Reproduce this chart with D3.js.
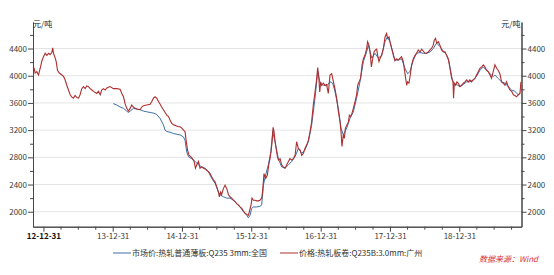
<!DOCTYPE html>
<html>
<head>
<meta charset="utf-8">
<script src="https://cdn.jsdelivr.net/npm/d3@7"></script>
<style>
  body { margin: 0; background: #fff; }
  .Chart { width: 554px; height: 275px; }
  text { font-family: "Noto Sans CJK SC", "Noto Sans", sans-serif; }
</style>
</head>
<body>
<div class="Chart"></div>
<script>
// 价格:热轧板卷:Q235B:3.0mm:广州
const gzPrice = [
  ["2012-11-06", 4130], ["2012-11-12", 4110], ["2012-11-17", 4040], ["2012-11-26", 4060],
  ["2012-12-05", 4010], ["2012-12-14", 4110], ["2012-12-22", 4210], ["2012-12-31", 4280],
  ["2013-01-09", 4330], ["2013-01-18", 4300], ["2013-01-27", 4330], ["2013-02-04", 4310],
  ["2013-02-13", 4340], ["2013-02-18", 4410], ["2013-02-22", 4330], ["2013-03-03", 4260],
  ["2013-03-08", 4210], ["2013-03-15", 4080], ["2013-03-25", 4040], ["2013-04-07", 4010],
  ["2013-04-16", 3990], ["2013-04-24", 3940], ["2013-05-03", 3860], ["2013-05-12", 3790],
  ["2013-05-21", 3720], ["2013-05-29", 3690], ["2013-06-07", 3670], ["2013-06-16", 3710],
  ["2013-06-25", 3680], ["2013-07-04", 3670], ["2013-07-12", 3720], ["2013-07-21", 3810],
  ["2013-07-30", 3840], ["2013-08-08", 3810], ["2013-08-16", 3850], ["2013-08-25", 3840],
  ["2013-09-03", 3810], ["2013-09-12", 3790], ["2013-09-21", 3770], ["2013-10-08", 3740],
  ["2013-10-17", 3770], ["2013-10-26", 3720], ["2013-11-03", 3790], ["2013-11-12", 3810],
  ["2013-11-21", 3790], ["2013-11-30", 3820], ["2013-12-17", 3840], ["2014-01-04", 3810],
  ["2014-01-21", 3810], ["2014-02-08", 3800], ["2014-02-17", 3740], ["2014-02-26", 3690],
  ["2014-03-06", 3590], ["2014-03-15", 3520], ["2014-03-24", 3480], ["2014-04-02", 3520],
  ["2014-04-10", 3570], ["2014-04-19", 3540], ["2014-04-28", 3520], ["2014-05-07", 3510],
  ["2014-05-24", 3500], ["2014-06-02", 3540], ["2014-06-11", 3560], ["2014-06-28", 3570],
  ["2014-07-16", 3580], ["2014-07-25", 3620], ["2014-08-03", 3670], ["2014-08-11", 3690],
  ["2014-08-20", 3670], ["2014-08-29", 3620], ["2014-09-07", 3580], ["2014-09-15", 3540],
  ["2014-09-24", 3500], ["2014-10-03", 3460], ["2014-10-12", 3420], ["2014-10-21", 3400],
  ["2014-10-29", 3350], ["2014-11-07", 3300], ["2014-11-16", 3280], ["2014-11-25", 3270],
  ["2014-12-03", 3260], ["2014-12-12", 3250], ["2014-12-21", 3250], ["2014-12-30", 3230],
  ["2015-01-08", 3200], ["2015-01-16", 3180], ["2015-01-22", 3050], ["2015-01-29", 2910],
  ["2015-02-06", 2830], ["2015-02-15", 2810], ["2015-02-24", 2780], ["2015-03-05", 2740],
  ["2015-03-12", 2640], ["2015-03-19", 2690], ["2015-03-28", 2740], ["2015-04-05", 2640],
  ["2015-04-14", 2660], ["2015-04-23", 2640], ["2015-05-02", 2630], ["2015-05-10", 2610],
  ["2015-05-19", 2590], ["2015-05-28", 2560], ["2015-06-06", 2510], ["2015-06-15", 2470],
  ["2015-06-23", 2440], ["2015-07-02", 2370], ["2015-07-11", 2290], ["2015-07-16", 2220],
  ["2015-07-23", 2290], ["2015-07-28", 2250], ["2015-08-06", 2340], ["2015-08-15", 2390],
  ["2015-08-24", 2340], ["2015-09-02", 2250], ["2015-09-10", 2220], ["2015-09-19", 2200],
  ["2015-09-28", 2170], ["2015-10-07", 2150], ["2015-10-15", 2120], ["2015-10-24", 2100],
  ["2015-11-02", 2070], ["2015-11-11", 2050], ["2015-11-20", 2010], ["2015-11-28", 1980],
  ["2015-12-07", 1960], ["2015-12-16", 1950], ["2015-12-21", 2000], ["2015-12-30", 2100],
  ["2016-01-04", 2200], ["2016-01-11", 2170], ["2016-01-20", 2170], ["2016-01-29", 2160],
  ["2016-02-07", 2160], ["2016-02-15", 2170], ["2016-02-24", 2200], ["2016-02-29", 2300],
  ["2016-03-07", 2560], ["2016-03-16", 2490], ["2016-03-25", 2540], ["2016-04-01", 2690],
  ["2016-04-08", 2780], ["2016-04-13", 2880], ["2016-04-19", 3030], ["2016-04-24", 3240],
  ["2016-04-29", 3180], ["2016-05-04", 3050], ["2016-05-10", 2930], ["2016-05-17", 2810],
  ["2016-05-22", 2760], ["2016-05-31", 2780], ["2016-06-08", 2690], ["2016-06-17", 2660],
  ["2016-06-26", 2640], ["2016-07-05", 2690], ["2016-07-14", 2740], ["2016-07-22", 2780],
  ["2016-07-31", 2760], ["2016-08-09", 2780], ["2016-08-18", 2830], ["2016-08-26", 3030],
  ["2016-09-04", 2930], ["2016-09-13", 2910], ["2016-09-22", 2830], ["2016-10-01", 2860],
  ["2016-10-09", 2930], ["2016-10-18", 2980], ["2016-10-27", 3050], ["2016-11-05", 3180],
  ["2016-11-13", 3320], ["2016-11-22", 3570], ["2016-12-01", 3760], ["2016-12-10", 3960],
  ["2016-12-15", 4120], ["2016-12-20", 4010], ["2016-12-26", 3760], ["2016-12-31", 3910],
  ["2017-01-05", 3860], ["2017-01-14", 3890], ["2017-01-23", 3860], ["2017-01-31", 3870],
  ["2017-02-09", 3740], ["2017-02-18", 4010], ["2017-02-27", 4030], ["2017-03-08", 3910],
  ["2017-03-16", 3810], ["2017-03-25", 3670], ["2017-04-03", 3470], ["2017-04-12", 3320],
  ["2017-04-17", 3180], ["2017-04-22", 2960], ["2017-04-29", 3130], ["2017-05-05", 3080],
  ["2017-05-10", 3230], ["2017-05-17", 3270], ["2017-05-26", 3320], ["2017-05-31", 3420],
  ["2017-06-07", 3400], ["2017-06-14", 3450], ["2017-06-21", 3520], ["2017-06-30", 3620],
  ["2017-07-08", 3720], ["2017-07-14", 3860], ["2017-07-21", 3910], ["2017-07-29", 3960],
  ["2017-08-06", 4160], ["2017-08-13", 4250], ["2017-08-21", 4300], ["2017-08-30", 4400],
  ["2017-09-04", 4500], ["2017-09-11", 4450], ["2017-09-17", 4350], ["2017-09-24", 4130],
  ["2017-10-01", 4250], ["2017-10-08", 4350], ["2017-10-15", 4380], ["2017-10-22", 4390],
  ["2017-10-27", 4300], ["2017-11-03", 4210], ["2017-11-08", 4250], ["2017-11-17", 4300],
  ["2017-11-26", 4400], ["2017-12-05", 4570], ["2017-12-13", 4620], ["2017-12-19", 4550],
  ["2017-12-26", 4570], ["2017-12-31", 4500], ["2018-01-09", 4400], ["2018-01-18", 4300],
  ["2018-01-26", 4220], ["2018-02-04", 4250], ["2018-02-13", 4230], ["2018-02-22", 4260],
  ["2018-03-02", 4280], ["2018-03-11", 4210], ["2018-03-20", 4030], ["2018-03-29", 3860],
  ["2018-04-03", 3910], ["2018-04-10", 3890], ["2018-04-17", 4010], ["2018-04-24", 4160],
  ["2018-05-03", 4250], ["2018-05-12", 4300], ["2018-05-20", 4330], ["2018-05-29", 4380],
  ["2018-06-07", 4350], ["2018-06-16", 4390], ["2018-06-25", 4360], ["2018-07-03", 4330],
  ["2018-07-12", 4330], ["2018-07-21", 4350], ["2018-07-30", 4380], ["2018-08-07", 4400],
  ["2018-08-16", 4450], ["2018-08-21", 4520], ["2018-08-28", 4550], ["2018-09-03", 4480],
  ["2018-09-12", 4500], ["2018-09-20", 4450], ["2018-09-29", 4380], ["2018-10-08", 4350],
  ["2018-10-17", 4350], ["2018-10-25", 4300], ["2018-11-03", 4250], ["2018-11-12", 4110],
  ["2018-11-21", 3960], ["2018-11-28", 3910], ["2018-12-01", 3670], ["2018-12-05", 3890],
  ["2018-12-12", 3860], ["2018-12-19", 3910], ["2018-12-26", 3890], ["2019-01-04", 3840],
  ["2019-01-12", 3860], ["2019-01-21", 3890], ["2019-01-30", 3910], ["2019-02-08", 3940],
  ["2019-02-17", 3910], ["2019-02-25", 3940], ["2019-03-06", 3910], ["2019-03-15", 3940],
  ["2019-03-24", 3960], ["2019-04-01", 4010], ["2019-04-10", 4060], ["2019-04-19", 4110],
  ["2019-04-28", 4130], ["2019-05-07", 4160], ["2019-05-15", 4130], ["2019-05-24", 4080],
  ["2019-06-02", 4060], ["2019-06-11", 4010], ["2019-06-19", 3960], ["2019-06-28", 4060],
  ["2019-07-07", 4160], ["2019-07-16", 4110], ["2019-07-24", 4080], ["2019-08-02", 4030],
  ["2019-08-11", 3910], ["2019-08-20", 3890], ["2019-08-29", 3860], ["2019-09-06", 3910],
  ["2019-09-15", 3840], ["2019-09-24", 3790], ["2019-10-03", 3770], ["2019-10-12", 3720],
  ["2019-10-20", 3710], ["2019-10-29", 3690], ["2019-11-07", 3720], ["2019-11-16", 3740],
  ["2019-11-21", 3910]
];

// 市场价:热轧普通薄板:Q235 3mm:全国
const nationalPrice = [
  ["2014-01-03", 3590], ["2014-01-21", 3570], ["2014-02-08", 3540], ["2014-02-26", 3520],
  ["2014-03-15", 3480], ["2014-03-24", 3460], ["2014-04-02", 3480], ["2014-04-19", 3520],
  ["2014-05-07", 3510], ["2014-05-24", 3500], ["2014-06-11", 3480], ["2014-06-28", 3470],
  ["2014-07-16", 3460], ["2014-08-03", 3450], ["2014-08-20", 3430], ["2014-09-07", 3370],
  ["2014-09-24", 3280], ["2014-10-03", 3200], ["2014-10-12", 3180], ["2014-10-29", 3170],
  ["2014-11-16", 3150], ["2014-12-03", 3140], ["2014-12-21", 3130], ["2015-01-08", 3100],
  ["2015-01-16", 3050], ["2015-01-25", 2880], ["2015-02-03", 2810], ["2015-02-20", 2780],
  ["2015-03-10", 2740], ["2015-03-28", 2690], ["2015-04-14", 2660], ["2015-05-02", 2640],
  ["2015-05-19", 2590], ["2015-06-06", 2490], ["2015-06-23", 2420], ["2015-07-11", 2290],
  ["2015-07-20", 2250], ["2015-08-06", 2220], ["2015-08-24", 2200], ["2015-09-10", 2200],
  ["2015-09-28", 2170], ["2015-10-15", 2120], ["2015-11-02", 2070], ["2015-11-20", 2000],
  ["2015-12-07", 1950], ["2015-12-16", 1910], ["2015-12-25", 1950], ["2016-01-02", 2050],
  ["2016-01-11", 2070], ["2016-01-29", 2070], ["2016-02-15", 2080], ["2016-02-24", 2100],
  ["2016-03-04", 2390], ["2016-03-13", 2510], ["2016-03-30", 2690], ["2016-04-12", 2880],
  ["2016-04-22", 3180], ["2016-05-04", 3030], ["2016-05-22", 2780], ["2016-06-08", 2660],
  ["2016-06-26", 2640], ["2016-07-14", 2690], ["2016-07-31", 2740], ["2016-08-18", 2810],
  ["2016-09-04", 2930], ["2016-09-22", 2860], ["2016-10-09", 2910], ["2016-10-27", 3030],
  ["2016-11-13", 3270], ["2016-12-01", 3670], ["2016-12-15", 4060], ["2016-12-28", 3890],
  ["2017-01-14", 3860], ["2017-01-31", 3850], ["2017-02-18", 3910], ["2017-03-04", 3890],
  ["2017-03-16", 3770], ["2017-04-03", 3520], ["2017-04-17", 3230], ["2017-04-29", 3130],
  ["2017-05-17", 3230], ["2017-06-03", 3370], ["2017-06-21", 3470], ["2017-07-08", 3670],
  ["2017-07-26", 3910], ["2017-08-13", 4210], ["2017-08-30", 4350], ["2017-09-08", 4450],
  ["2017-09-26", 4260], ["2017-10-13", 4330], ["2017-10-31", 4260], ["2017-11-17", 4300],
  ["2017-12-05", 4500], ["2017-12-17", 4570], ["2017-12-31", 4500], ["2018-01-26", 4230],
  ["2018-02-13", 4230], ["2018-03-02", 4250], ["2018-03-20", 4110], ["2018-04-03", 4030],
  ["2018-04-15", 4060], ["2018-05-03", 4230], ["2018-05-20", 4330], ["2018-06-07", 4340],
  ["2018-06-25", 4330], ["2018-07-12", 4330], ["2018-07-30", 4350], ["2018-08-16", 4400],
  ["2018-09-03", 4480], ["2018-09-20", 4430], ["2018-10-08", 4360], ["2018-10-25", 4310],
  ["2018-11-07", 4210], ["2018-11-21", 3990], ["2018-11-30", 3890], ["2018-12-17", 3870],
  ["2019-01-04", 3840], ["2019-01-21", 3870], ["2019-02-08", 3910], ["2019-02-25", 3910],
  ["2019-03-15", 3940], ["2019-04-01", 3990], ["2019-04-19", 4080], ["2019-05-07", 4130],
  ["2019-05-24", 4080], ["2019-06-11", 4030], ["2019-06-28", 3990], ["2019-07-07", 4010],
  ["2019-07-24", 3960], ["2019-08-11", 3910], ["2019-08-29", 3890], ["2019-09-15", 3840],
  ["2019-10-03", 3790], ["2019-10-20", 3770], ["2019-11-07", 3720], ["2019-11-16", 3740]
];

const xTickLabels = ["12-12-31", "13-12-31", "14-12-31", "15-12-31", "16-12-31", "17-12-31", "18-12-31"];
const yTicks = [2000, 2400, 2800, 3200, 3600, 4000, 4400];
const yMinorTicks = [2200, 2600, 3000, 3400, 3800, 4200, 4600];
const unitLabel = "元/吨";
const legendLabels = ["市场价:热轧普通薄板:Q235 3mm:全国", "价格:热轧板卷:Q235B:3.0mm:广州"];
const sourceLabel = "数据来源：Wind";

const w = 554;
const h = 275;
const plotLeft = 33;
const plotRight = 521.5;
const plotTop = 22;
const plotBottom = 226.7;

const blue = "#3d6fa8";
const red = "#ad2f30";
const axisColor = "#474747";

const parseDate = d3.utcParse("%Y-%m-%d");
const parseTick = d3.utcParse("%y-%m-%d");
const toPoints = arr => arr.map(d => ({ date: parseDate(d[0]), value: d[1] }));

const xScale = d3
  .scaleUtc()
  .domain([parseDate("2012-11-06"), parseDate("2019-11-24")])
  .range([plotLeft, plotRight]);

const yScale = d3
  .scaleLinear()
  .domain([1780, 4790])
  .range([plotBottom, plotTop]);

const svg = d3
  .select(".Chart")
  .append("svg")
  .attr("width", w)
  .attr("height", h);

// gridlines
svg
  .append("g")
  .selectAll("line")
  .data(yTicks)
  .enter()
  .append("line")
  .attr("x1", plotLeft)
  .attr("x2", plotRight)
  .attr("y1", d => yScale(d))
  .attr("y2", d => yScale(d))
  .attr("stroke", "#e4e4e4")
  .attr("stroke-width", 1);

const styleAxis = g => {
  g.select(".domain").attr("stroke", axisColor);
  g.selectAll(".tick line").attr("stroke", axisColor);
  g.selectAll(".tick text")
    .attr("fill", "#3a3a3a")
    .style("font-size", "8px")
    .style("font-family", '"Noto Sans CJK SC", "Noto Sans", sans-serif');
};

// x axis
const yearEnds = xTickLabels.map(parseTick);
const quarterEnds = d3.utcMonth
  .every(3)
  .range(parseDate("2013-01-01"), parseDate("2019-12-01"))
  .map(d => d3.utcDay.offset(d, -1))
  .filter(d => d.getUTCMonth() !== 11);

svg
  .append("g")
  .attr("transform", "translate(0," + plotBottom + ")")
  .call(d3.axisBottom(xScale).tickValues(quarterEnds).tickSize(3).tickSizeOuter(0).tickFormat(""))
  .call(styleAxis);

svg
  .append("g")
  .attr("transform", "translate(0," + plotBottom + ")")
  .call(
    d3.axisBottom(xScale)
      .tickValues(yearEnds)
      .tickSize(5)
      .tickSizeOuter(0)
      .tickPadding(2)
      .tickFormat(d3.utcFormat("%y-%m-%d"))
  )
  .call(styleAxis)
  .call(g => g.select(".tick text").attr("fill", "#111").style("font-weight", "bold"));

// y axes
[
  [d3.axisLeft, plotLeft],
  [d3.axisRight, plotRight]
].forEach(([axisFn, pos]) => {
  svg
    .append("g")
    .attr("transform", "translate(" + pos + ",0)")
    .call(axisFn(yScale).tickValues(yMinorTicks).tickSize(3).tickSizeOuter(0).tickFormat(""))
    .call(styleAxis);
  svg
    .append("g")
    .attr("transform", "translate(" + pos + ",0)")
    .call(axisFn(yScale).tickValues(yTicks).tickSize(5).tickSizeOuter(0).tickPadding(1).tickFormat(d3.format("d")))
    .call(styleAxis);
});

svg
  .append("text")
  .attr("x", plotLeft)
  .attr("y", plotTop + 5)
  .attr("fill", "#222")
  .style("font-size", "8px")
  .text(unitLabel);

svg
  .append("text")
  .attr("x", plotRight - 1)
  .attr("y", plotTop + 5)
  .attr("text-anchor", "end")
  .attr("fill", "#222")
  .style("font-size", "8px")
  .text(unitLabel);

// series
const line = d3
  .line()
  .x(d => xScale(d.date))
  .y(d => yScale(d.value));

svg
  .append("path")
  .datum(toPoints(nationalPrice))
  .attr("d", line)
  .attr("fill", "none")
  .attr("stroke", blue)
  .attr("stroke-width", 1);

svg
  .append("path")
  .datum(toPoints(gzPrice))
  .attr("d", line)
  .attr("fill", "none")
  .attr("stroke", red)
  .attr("stroke-width", 1.1);

// legend
const legendItems = [
  { label: legendLabels[0], color: blue, x: 113 },
  { label: legendLabels[1], color: red, x: 280 }
];

const legend = svg
  .append("g")
  .selectAll("g")
  .data(legendItems)
  .enter()
  .append("g")
  .attr("transform", d => "translate(" + d.x + ",253)");

legend
  .append("line")
  .attr("x1", 0)
  .attr("x2", 18)
  .attr("stroke", d => d.color)
  .attr("stroke-width", 1);

legend
  .append("text")
  .attr("x", 19)
  .attr("dy", "0.35em")
  .attr("fill", "#333")
  .style("font-size", "8px")
  .text(d => d.label);

svg
  .append("text")
  .attr("x", 538)
  .attr("y", 262)
  .attr("text-anchor", "end")
  .attr("fill", "#d9312f")
  .style("font-size", "8px")
  .style("font-style", "italic")
  .text(sourceLabel);
</script>
</body>
</html>
